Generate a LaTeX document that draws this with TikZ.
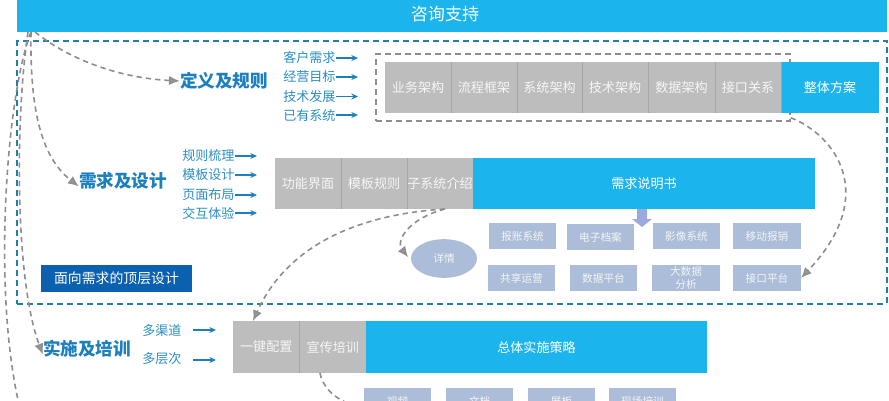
\documentclass[tikz,border=0pt]{standalone}
\usepackage{fontspec}
\setmainfont{Noto Sans CJK SC}
\usetikzlibrary{arrows.meta,shapes.geometric}
\definecolor{skyb}{HTML}{1CB4EC}
\definecolor{grayb}{HTML}{BDBDBD}
\definecolor{grayl}{HTML}{A6A6A6}
\definecolor{paleb}{HTML}{ABBDD8}
\definecolor{deepb}{HTML}{0B60B0}
\definecolor{headb}{HTML}{1C7FBE}
\definecolor{labb}{HTML}{2B8FC4}
\definecolor{outerb}{HTML}{1F7FAE}
\definecolor{dashg}{HTML}{8E8E8E}
\newcommand{\fs}[1]{\fontsize{#1}{#1}\selectfont}
\tikzset{
 x=0.75pt,y=-0.75pt,
 box/.style={inner sep=0pt,outer sep=0pt,text=white},
 graybox/.style={box,fill=grayb,text=white!93!gray,font=\fs{9.8}},
 bluebox/.style={box,fill=skyb,font=\fs{9.8}},
 palebox/.style={box,fill=paleb,text=white!92!gray,font=\fs{8}},
 head/.style={inner sep=0pt,text=headb,font=\fs{13.2}\bfseries},
 lab/.style={inner sep=0pt,text=labb,font=\fs{9.8}},
 labarrow/.style={draw=headb,line width=1.1pt,-{Stealth[length=5pt,width=4.5pt]}},
 flow/.style={draw=dashg,line width=1.2pt,dash pattern=on 4pt off 3pt,-{Latex[length=8pt,width=7pt,fill=dashg!90!white]}},
 flowopen/.style={draw=dashg,line width=1.2pt,dash pattern=on 4pt off 3pt},
 sep/.style={draw=grayl,line width=0.6pt},
}
\newcommand{\bx}[7]{%
 \pgfmathsetmacro\bw{(#4-#2)*0.75}\pgfmathsetmacro\bh{(#5-#3)*0.75}%
 \node[#6,minimum width=\bw pt,minimum height=\bh pt] (#1) at ({(#2+#4)/2},{(#3+#5)/2}) {#7};}
\newcommand{\lb}[5]{% name, x, y, xarrowend, text
 \node[lab,anchor=west] (#1) at (#2,#3) {#5};
 \coordinate (#1e) at (#4,#3);
 \draw[labarrow] (#1.east) -- (#1e);}
\begin{document}
\begin{tikzpicture}
\useasboundingbox (0,0) rectangle (889,400);
\clip (0,0) rectangle (889,400);
\fill[white] (0,0) rectangle (889,400);
% top bar
\bx{top}{17}{-2}{887}{32}{box,fill=skyb}{}
\node[box,font=\fs{12.8}] (toptext) at (445,14) {咨询支持};
% outer dashed frame
\node[draw=outerb,line width=1.3pt,dash pattern=on 4.5pt off 3pt,inner sep=0pt,minimum width=652pt,minimum height=197pt] (outer) at (452,172.5) {};
% inner dashed frame
\node[draw=dashg,line width=1.1pt,dash pattern=on 4.5pt off 3pt,inner sep=0pt,minimum width=310.5pt,minimum height=50.25pt] (inner) at (583,87.5) {};
% row 1
\bx{a1}{385}{62}{451}{113}{graybox}{业务架构}
\bx{a2}{451}{62}{517}{113}{graybox}{流程框架}
\bx{a3}{517}{62}{582}{113}{graybox}{系统架构}
\bx{a4}{582}{62}{648}{113}{graybox}{技术架构}
\bx{a5}{648}{62}{715}{113}{graybox}{数据架构}
\bx{a6}{715}{62}{781}{113}{graybox}{接口关系}
\bx{a7}{781}{62}{879}{113}{bluebox}{整体方案}
\foreach \n in {a1,a2,a3,a4,a5,a6} \draw[sep] (\n.north east) -- (\n.south east);
% row 2
\bx{b1}{275}{158}{341}{209}{graybox}{功能界面}
\bx{b2}{341}{158}{407}{209}{graybox}{模板规则}
\bx{b3}{407}{158}{473}{209}{graybox}{子系统介绍}
\bx{b4}{473}{158}{815}{209}{bluebox}{需求说明书}
\foreach \n in {b1,b2} \draw[sep] (\n.north east) -- (\n.south east);
% row 3
\bx{c1}{233}{321}{299.5}{373}{graybox}{一键配置}
\bx{c2}{299.5}{321}{366}{373}{graybox}{宣传培训}
\bx{c3}{366}{321}{707}{373}{bluebox}{总体实施策略}
\draw[sep] (c1.north east) -- (c1.south east);
% small boxes
\bx{s1}{489}{223}{556}{249}{palebox}{报账系统}
\bx{s2}{567}{224}{634}{250}{palebox}{电子档案}
\bx{s3}{653}{223}{720}{249}{palebox}{影像系统}
\bx{s4}{733}{223}{801}{249}{palebox}{移动报销}
\bx{s5}{488}{265}{555}{291}{palebox}{共享运营}
\bx{s6}{570}{265}{637}{291}{palebox}{数据平台}
\bx{s7}{652}{265}{720}{291}{palebox}{\shortstack[c]{大数据\\分析}}
\bx{s8}{733}{265}{801}{291}{palebox}{接口平台}
\bx{t1}{364}{388}{431}{414}{palebox}{视频}
\bx{t2}{446}{388}{513}{414}{palebox}{文档}
\bx{t3}{528}{388}{595}{414}{palebox}{展板}
\bx{t4}{609}{388}{676}{414}{palebox}{现场培训}
% ellipse
\node[ellipse,fill=paleb,text=white!92!gray,font=\fs{8},inner sep=0pt,minimum width=49.5pt,minimum height=29pt] (ell) at (444,258.5) {详情};
% block arrow
\fill[fill=paleb!90!blue] (637,209) -- (647,209) -- (647,219) -- (652,219) -- (642,227) -- (632,219) -- (637,219) -- cycle;
% top-level design label
\bx{d}{41}{265}{192}{292}{box,fill=deepb,font=\fs{10.4}}{面向需求的顶层设计}
% headings
\node[head] (h1) at (224,81) {定义及规则};
\node[head] (h2) at (123,181) {需求及设计};
\node[head] (h3) at (87,349) {实施及培训};
% labels
\lb{l1}{283}{58}{358}{客户需求}
\lb{l2}{283}{77}{358}{经营目标}
\lb{l3}{283}{96.5}{358}{技术发展}
\lb{l4}{283}{115}{358}{已有系统}
\lb{m1}{182}{156}{257}{规则梳理}
\lb{m2}{182}{175}{257}{模板设计}
\lb{m3}{182}{195}{257}{页面布局}
\lb{m4}{182}{213}{257}{交互体验}
\node[lab,anchor=west] (n1) at (142,331) {多渠道};
\coordinate (n1s) at (193,330); \coordinate (n1e) at (216,330);
\draw[labarrow] (n1s) -- (n1e);
\node[lab,anchor=west] (n2) at (142,359) {多层次};
\coordinate (n2s) at (193,360); \coordinate (n2e) at (216,360);
\draw[labarrow] (n2s) -- (n2e);
% dashed flows
\coordinate (tA) at (35,32);
\coordinate (tB) at (31,32);
\coordinate (tC) at (28,32);
\draw[flow] (tA) .. controls (70,60) and (120,78) .. (h1.west);
\draw[flow] (tB) .. controls (30,100) and (38,155) .. ([yshift=-4pt]h2.west);
\draw[flow] (tC) .. controls (15,120) and (15,280) .. ([yshift=-4pt]h3.west);
\coordinate (far) at (18,400);
\draw[flowopen] (tB) .. controls (8,90) and (-8,280) .. (far);
\draw[flow] ([yshift=3pt]inner.south east) .. controls (835,135) and (880,195) .. (s8.east);
\coordinate (b3s) at (445,209);
\draw[flow] (b3s) .. controls (350,215) and (285,250) .. (253,321);
\draw[flow] (b3s) .. controls (410,218) and (395,240) .. ([yshift=1pt,xshift=-2pt]ell.west);
\coordinate (c2s) at (320,373);
\coordinate (c2e) at (345,402);
\draw[flowopen] (c2s) .. controls (322,385) and (332,396) .. (c2e);
\end{tikzpicture}
\end{document}
